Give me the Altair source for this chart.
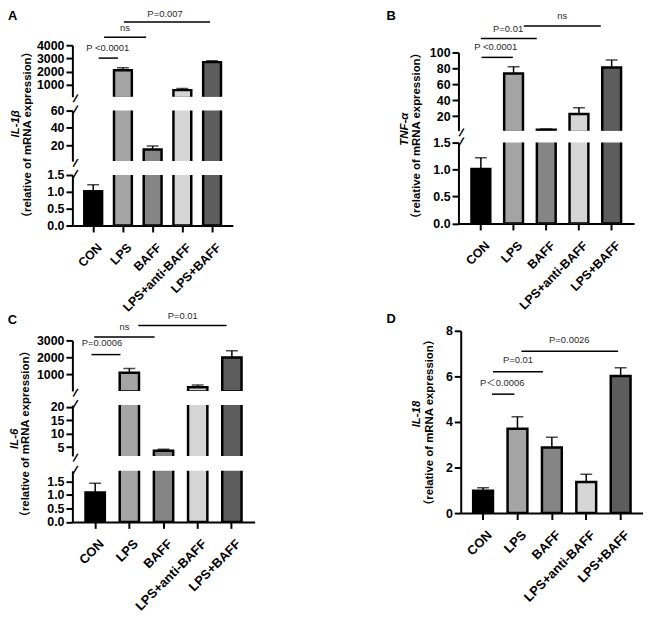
import altair as alt
import pandas as pd

FONT = "Liberation Sans, Arial, Noto Sans CJK SC, sans-serif"

# ---------------- data ----------------
groups = ["CON", "LPS", "BAFF", "LPS+anti-BAFF", "LPS+BAFF"]
bar_colors = ["#000000", "#a4a4a4", "#858585", "#d5d5d5", "#5d5d5d"]

genes = ["IL-1β", "TNF-α", "IL-6", "IL-18"]
ylabel_text = "（relative of mRNA expression）"
letters = ["A", "B", "C", "D"]

il1b_mean = [1.02, 2100, 15.0, 600, 2720]
il1b_err = [0.19, 200, 4.0, 120, 100]
tnfa_mean = [1.01, 73.5, 2.8, 22.5, 81.0]
tnfa_err = [0.21, 8.5, 0.9, 8.0, 9.5]
il6_mean = [1.09, 1100, 3.6, 240, 2000]
il6_err = [0.35, 250, 0.6, 130, 390]
il18_mean = [0.98, 3.70, 2.88, 1.36, 6.02]
il18_err = [0.13, 0.53, 0.45, 0.35, 0.36]

# axis segments (broken axes): low, high, tick values, tick format
il1b_segments = [(100, 4000, [1000, 2000, 3000, 4000], "d"),
                 (1.5, 60, [20, 40, 60], "d"),
                 (0, 1.5, [0, 0.5, 1.0, 1.5], ".1f")]
tnfa_segments = [(1.6, 100, [20, 40, 60, 80, 100], "d"),
                 (0, 1.5, [0, 0.5, 1.0, 1.5], ".1f")]
il6_segments = [(25, 3000, [1000, 2000, 3000], "d"),
                (1.7, 20.6, [5, 10, 15, 20], "d"),
                (0, 1.9, [0, 0.5, 1.0, 1.5], ".1f")]
il18_segments = [(0, 8, [0, 2, 4, 6, 8], "d")]

# significance brackets
il1b_sig = {"from": ["CON", "CON", "LPS"], "to": ["LPS", "BAFF", "LPS+BAFF"],
            "label": ["P <0.0001", "ns", "P=0.007"],
            "line": [3025, 4600, 5755], "label_y": [3775, 5275, 6340]}
tnfa_sig = {"from": ["CON", "CON", "LPS"], "to": ["LPS", "BAFF", "LPS+BAFF"],
            "label": ["P <0.0001", "P=0.01", "ns"],
            "line": [93.8, 117.4, 133.3], "label_y": [107.1, 129.0, 145.7]}
il6_sig = {"from": ["CON", "CON", "LPS"], "to": ["LPS", "BAFF", "LPS+BAFF"],
           "label": ["P=0.0006", "ns", "P=0.01"],
           "line": [2166, 3198, 3875], "label_y": [2866, 3817, 4458]}
il18_sig = {"from": ["CON", "CON", "LPS"], "to": ["LPS", "BAFF", "LPS+BAFF"],
            "label": ["P＜0.0006", "P=0.01", "P=0.0026"],
            "line": [5.22, 6.20, 7.10], "label_y": [5.73, 6.70, 7.58]}


def spacer():
    return alt.Chart(pd.DataFrame({"s": [0]})).mark_point(opacity=0).encode(
        x=alt.value(0), y=alt.value(0)).properties(width=1, height=1)


def panel(means, errs, segs, heights, gap, width, pad_outer, bar_w, xfs,
          sig, sig_off, letter, letter_xy, gene, gene_xy, ylab_xy, anchor=False):
    df = pd.DataFrame({"group": groups, "mean": means, "err": errs})
    step = width / (len(groups) + 2 * pad_outer)
    xscale = alt.Scale(domain=groups, paddingInner=0, paddingOuter=pad_outer)
    charts = []
    n = len(segs)
    for i, ((lo, hi, ticks, fmt), h) in enumerate(zip(segs, heights)):
        last = i == n - 1
        xaxis = (alt.Axis(title=None, labelAngle=-45, labelFontSize=xfs, tickSize=6.5,
                          labelPadding=9, labelOffset=2.5) if last else None)
        yaxis = alt.Axis(title=None, values=ticks, format=fmt, labelFontSize=12.5,
                         tickSize=6.5, labelPadding=2, labelOverlap=False)
        yscale = alt.Scale(domain=[lo, hi], zero=False, nice=False)

        def X(field):
            return alt.X(f"{field}:N", scale=xscale, axis=xaxis)

        def Y(field):
            return alt.Y(f"{field}:Q", scale=yscale, axis=yaxis)

        base = alt.Chart(df).transform_calculate(top="datum.mean + datum.err")
        bars = base.transform_filter(f"datum.mean > {lo}").mark_bar(
            width=bar_w, stroke="black", strokeWidth=2.5, clip=True).encode(
            x=X("group"), y=Y("mean"), y2=alt.datum(0),
            color=alt.Color("group:N", scale=alt.Scale(domain=groups, range=bar_colors), legend=None))
        errs_base = base.transform_filter(f"datum.top > {lo}")
        stem = errs_base.mark_rule(color="black", strokeWidth=1.5, clip=True).encode(
            x=X("group"), y=Y("mean"), y2="top:Q")
        cap = errs_base.mark_tick(color="black", size=12, thickness=1.5, clip=True).encode(
            x=X("group"), y=Y("top"))
        layers = [bars, stem, cap]

        # axis-break marks
        brk = []
        if i > 0:
            brk.append(-1)
        if not last:
            brk.append(h + 2)
        for by in brk:
            layers.append(alt.Chart(pd.DataFrame({"t": ["/"]})).mark_text(
                fontSize=12, fontWeight="bold", font=FONT, color="black", angle=20,
                align="center", baseline="middle").encode(
                x=alt.value(3), y=alt.value(by), text="t:N"))

        if i == 0:
            if anchor:
                # invisible far-away corner: fixes the page origin independent of text extents
                layers.append(alt.Chart(pd.DataFrame({"f": [0]})).mark_rect(opacity=0).encode(
                    x=alt.value(-300), x2=alt.value(-290), y=alt.value(-300), y2=alt.value(-290)))
            sdf = pd.DataFrame(sig)
            sdf["k"] = range(len(sdf))
            for k, (o1, o2, ts) in enumerate(sig_off):
                fi = groups.index(sig["from"][k])
                ti = groups.index(sig["to"][k])
                dx = ((ti - fi) * step + o1 + o2) / 2 + ts
                sb = alt.Chart(sdf).transform_filter(f"datum.k == {k}")
                layers.append(sb.mark_rule(color="black", strokeWidth=1.5, xOffset=o1, x2Offset=o2).encode(
                    x=X("from"), x2="to:N", y=Y("line")))
                layers.append(sb.mark_text(dx=dx, fontSize=9.5, color="#2a2a2a", font=FONT,
                                           baseline="middle", align="center").encode(
                    x=X("from"), y=Y("label_y"), text="label:N"))
            layers.append(alt.Chart(pd.DataFrame({"t": [letter]})).mark_text(
                align="left", baseline="top", fontSize=13, fontWeight="bold", font=FONT,
                color="black").encode(x=alt.value(letter_xy[0]), y=alt.value(letter_xy[1]), text="t:N"))
            layers.append(alt.Chart(pd.DataFrame({"t": [gene]})).mark_text(
                angle=270, align="center", baseline="middle", fontSize=11.5, fontWeight="bold",
                fontStyle="italic", font=FONT, color="black").encode(
                x=alt.value(gene_xy[0]), y=alt.value(gene_xy[1]), text="t:N"))
            layers.append(alt.Chart(pd.DataFrame({"t": [ylabel_text]})).mark_text(
                angle=270, align="center", baseline="middle", fontSize=11.5, fontWeight="bold",
                font=FONT, color="black").encode(
                x=alt.value(ylab_xy[0]), y=alt.value(ylab_xy[1]), text="t:N"))

        charts.append(alt.layer(*layers).properties(width=width, height=h))
    if n == 1:
        return charts[0]
    return alt.vconcat(*charts, spacing=gap, bounds="flush")


pA = panel(il1b_mean, il1b_err, il1b_segments, [52, 51, 51], 14, 162, 0.2, 18, 12.5,
           il1b_sig, [(5.5, -5, -0.5), (11, -6.6, 0), (1, -2, -2)],
           letters[0], (-65, -35.2), genes[0], (-57, 79.3), (-45, 90.3), anchor=True)
pB = panel(tnfa_mean, tnfa_err, tnfa_segments, [79, 81.7], 12, 177.3, 0.186, 19, 12.5,
           tnfa_sig, [(0.7, -0.7, -1.5), (0, -9.6, -0.7), (10.3, -11, 0)],
           letters[1], (-72.7, -42.5), genes[1], (-53.7, 77.5), (-41.7, 84))
pC = panel(il6_mean, il6_err, il6_segments, [51, 51.3, 51.6], 14.3, 184, 0.167, 19.5, 13,
           il6_sig, [(-3.7, -9, -4), (-1, -9, 0), (9, -5.4, 0.3)],
           letters[2], (-65.3, -26.7), genes[2], (-57.8, 99.3), (-46.3, 94.3))
pD = panel(il18_mean, il18_err, il18_segments, [184], 0, 184, 0.15, 20, 13,
           il18_sig, [(9, -3, -1), (10, -9, 0), (4, -2.5, -0.5)],
           letters[3], (-75, -18), genes[3], (-44, 84), (-31, 92.5))

# flush layout: nested groups have no own size, so spacings are offsets between panel origins
pB_wrap = alt.vconcat(spacer(), pB, spacing=6.3, bounds="flush")
pC_wrap = alt.vconcat(spacer(), pC, spacing=8.7, bounds="flush")
row1 = alt.hconcat(pA, pB_wrap, spacing=389.7, bounds="flush")
row2 = alt.hconcat(pC_wrap, pD, spacing=392, bounds="flush")
chart = alt.vconcat(row1, row2, spacing=288.3, bounds="flush").properties(
    padding={"left": -235, "top": -265.3, "right": 0, "bottom": 0}).configure_view(
    stroke=None).configure_axis(
    domainColor="black", domainWidth=2, tickColor="black", tickWidth=2,
    labelColor="black", labelFont=FONT, labelFontWeight="bold", grid=False)

chart.save("out.html", embed_options={"renderer": "svg", "actions": False})
